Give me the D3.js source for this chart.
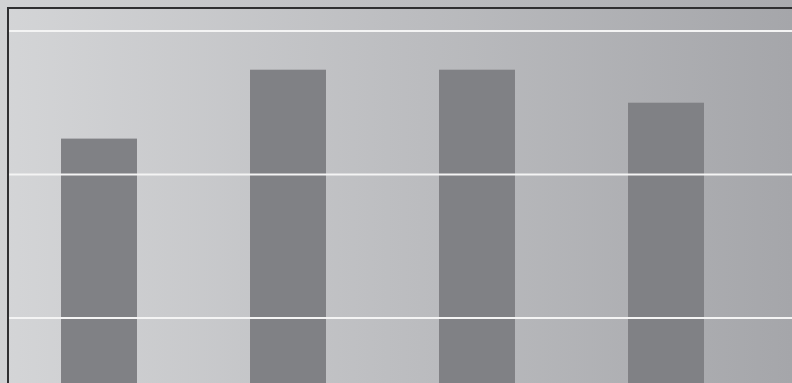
<!DOCTYPE html>
<html>
<head>
<meta charset="utf-8">
<script src="https://cdn.jsdelivr.net/npm/d3@7"></script>
<style>
  html, body { margin: 0; padding: 0; overflow: hidden; }
  svg { display: block; }
</style>
</head>
<body>
<script>
// chart data (axis labels fall outside the visible crop)
const categories = ["A", "B", "C", "D"]
const values = [2.25, 2.73, 2.73, 2.5]
const gridTicks = [1, 2, 3]

const width = 792, height = 383
const plotLeft = 8, plotTop = 8

let svg = d3.select("body").append("svg")
  .attr("width", width)
  .attr("height", height)

let defs = svg.append("defs")
let outerGrad = defs.append("linearGradient").attr("id", "outerGrad")
outerGrad.append("stop").attr("offset", "0%").attr("stop-color", "#d1d2d4")
outerGrad.append("stop").attr("offset", "100%").attr("stop-color", "#a9aaae")
let plotGrad = defs.append("linearGradient").attr("id", "plotGrad")
  .attr("gradientUnits", "userSpaceOnUse")
  .attr("x1", 0).attr("x2", width).attr("y1", 0).attr("y2", 0)
plotGrad.append("stop").attr("offset", "0%").attr("stop-color", "#d4d5d7")
plotGrad.append("stop").attr("offset", "100%").attr("stop-color", "#a5a6aa")

svg.append("rect")
  .attr("width", width).attr("height", height)
  .attr("fill", "url(#outerGrad)")

svg.append("rect")
  .attr("x", plotLeft).attr("y", plotTop)
  .attr("width", width - plotLeft).attr("height", height - plotTop)
  .attr("fill", "url(#plotGrad)")

// y scale: zero sits below the visible area
let y = d3.scaleLinear().domain([0, 3.16]).range([461.5, plotTop])
let x = d3.scaleBand().domain(categories).range([4.5, 760.5]).paddingInner(0.598).paddingOuter(0.299)

svg.selectAll(".bar")
  .data(values)
  .enter()
  .append("rect")
  .attr("class", "bar")
  .attr("x", (d, i) => x(categories[i]))
  .attr("y", d => y(d))
  .attr("width", x.bandwidth())
  .attr("height", d => y(0) - y(d))
  .attr("fill", "#808185")

svg.selectAll(".grid")
  .data(gridTicks)
  .enter()
  .append("line")
  .attr("class", "grid")
  .attr("x1", plotLeft).attr("x2", width)
  .attr("y1", d => y(d)).attr("y2", d => y(d))
  .attr("stroke", "#f4f4f4")
  .attr("stroke-width", 2)

// frame
svg.append("line")
  .attr("x1", plotLeft).attr("x2", width)
  .attr("y1", 8).attr("y2", 8)
  .attr("stroke", "#2f2f31").attr("stroke-width", 2)
svg.append("line")
  .attr("x1", plotLeft).attr("x2", plotLeft)
  .attr("y1", 7).attr("y2", height)
  .attr("stroke", "#2f2f31").attr("stroke-width", 2)
</script>
</body>
</html>
